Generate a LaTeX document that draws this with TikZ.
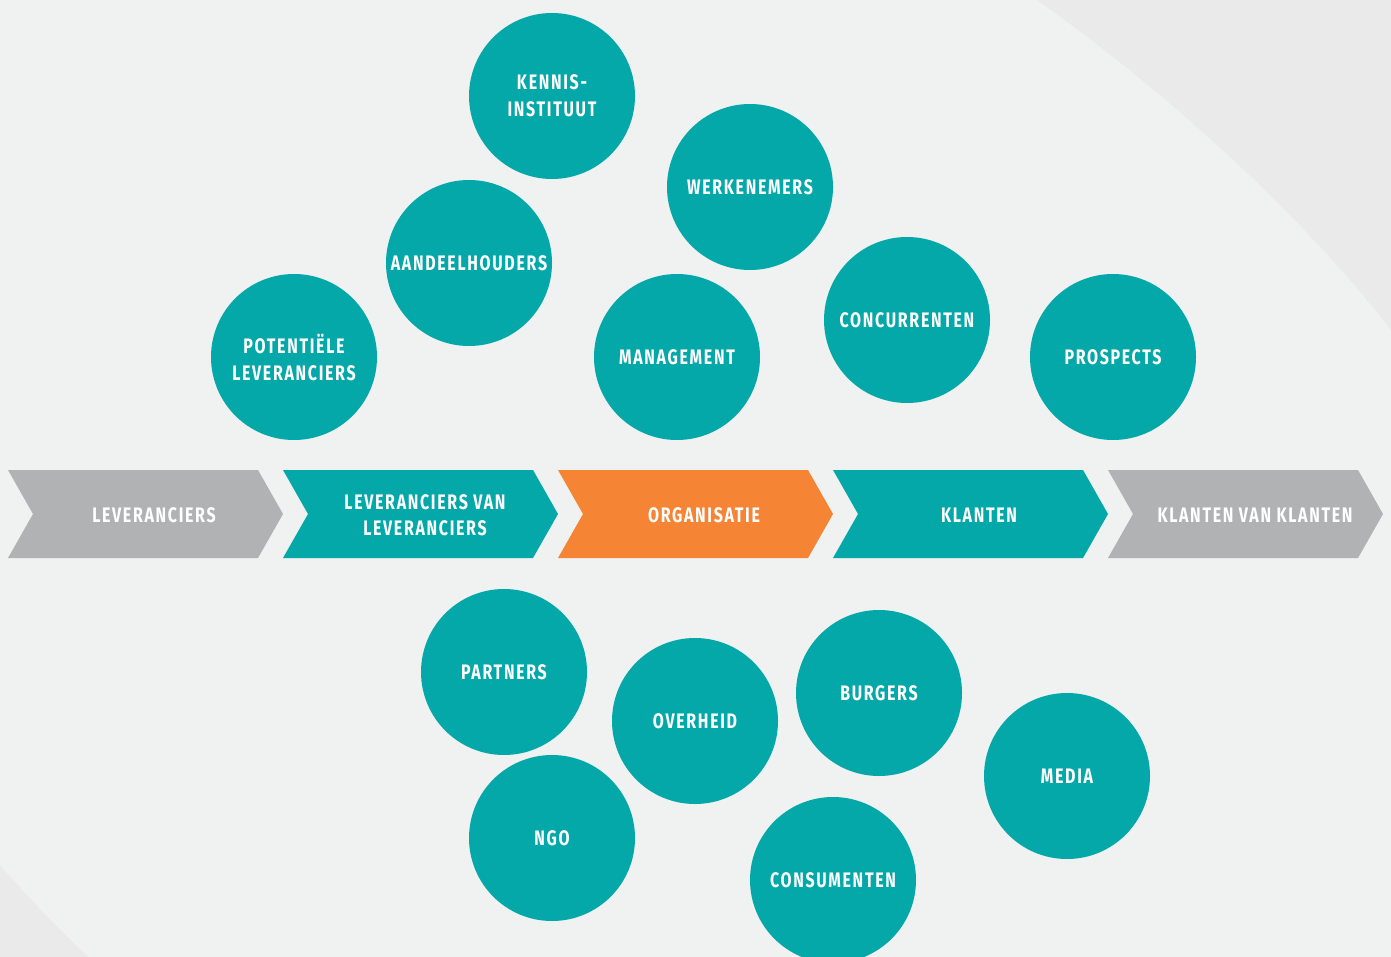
\documentclass[tikz,border=0pt]{standalone}
\usepackage{fontspec}
\setmainfont{Fira Sans}[FakeStretch=0.76,LetterSpace=8]
\definecolor{teal}{RGB}{4,168,169}
\definecolor{orng}{RGB}{245,132,52}
\definecolor{gry}{RGB}{176,178,180}
\definecolor{bglight}{RGB}{240,241,241}
\definecolor{bgdark}{RGB}{234,234,234}
\tikzset{
  bub/.style={circle,fill=teal,minimum size=166pt,inner sep=0pt,align=center,text=white,font=\fontsize{21}{27}\selectfont\bfseries},
  chevtext/.style={align=center,text=white,font=\fontsize{21}{26}\selectfont\bfseries},
}
\newcommand{\chev}[2]{%
  \fill[#2] (#1,470) -- (#1+250,470) -- (#1+275,514) -- (#1+250,558) -- (#1,558) -- (#1+25,514) -- cycle;}
\begin{document}
\begin{tikzpicture}[x=1pt,y=-1pt]
\useasboundingbox (0,0) rectangle (1391,957);
\fill[bglight] (0,0) rectangle (1391,957);
\fill[bgdark] (1037,0) .. controls (1150,80) and (1290,200) .. (1391,330) -- (1391,0) -- cycle;
\fill[bgdark] (0,865) .. controls (30,900) and (60,930) .. (88,957) -- (0,957) -- cycle;
% chevrons
\chev{8}{gry}
\chev{283}{teal}
\chev{558}{orng}
\chev{833}{teal}
\chev{1108}{gry}
\node[chevtext] (lev) at (154,515) {LEVERANCIERS};
\node[chevtext] (levlev) at (425,515) {LEVERANCIERS VAN\\LEVERANCIERS};
\node[chevtext] (org) at (704,515) {ORGANISATIE};
\node[chevtext] (kl) at (979,515) {KLANTEN};
\node[chevtext] (klkl) at (1255,515) {KLANTEN VAN KLANTEN};
% circles
\node[bub] (kennis) at (552,96) {KENNIS-\\INSTITUUT};
\node[bub] (werk) at (750,187) {WERKENEMERS};
\node[bub] (aand) at (469,263) {AANDEELHOUDERS};
\node[bub] (pot) at (294,357) {POTENTIËLE\\LEVERANCIERS};
\node[bub] (man) at (677,357) {MANAGEMENT};
\node[bub] (conc) at (907,320) {CONCURRENTEN};
\node[bub] (pros) at (1113,357) {PROSPECTS};
\node[bub] (part) at (504,672) {PARTNERS};
\node[bub] (over) at (695,721) {OVERHEID};
\node[bub] (burg) at (879,693) {BURGERS};
\node[bub] (media) at (1067,776) {MEDIA};
\node[bub] (ngo) at (552,838) {NGO};
\node[bub] (cons) at (833,880) {CONSUMENTEN};
\end{tikzpicture}
\end{document}
